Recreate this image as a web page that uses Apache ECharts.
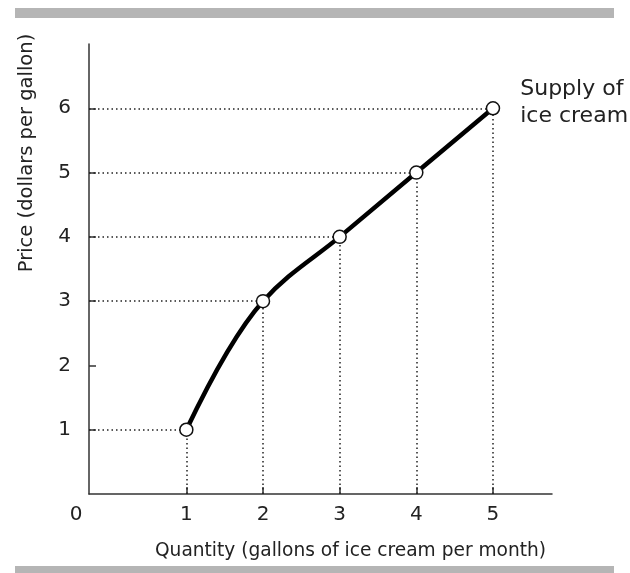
<!DOCTYPE html>
<html>
<head>
<meta charset="utf-8">
<script src="https://cdn.jsdelivr.net/npm/echarts@6/dist/echarts.min.js"></script>
<style>
html, body { margin: 0; padding: 0; background: #fff; }
#chart { width: 630px; height: 573px; }
</style>
</head>
<body>
<div id="chart"></div>
<script>
// 供给表：数量（加仑/月）与价格（美元/加仑）
const quantity = [1, 2, 3, 4, 5]
const price = [1, 3, 4, 5, 6]
const xTicks = [1, 2, 3, 4, 5]
const yTicks = [1, 2, 3, 4, 5, 6]

const xMin = -0.27
const xMax = 5.77
const font = 'DejaVu Sans'
const ink = '#222'

const points = quantity.map((q, i) => [q, price[i]])

// 单调三次插值 (PCHIP) 的切线，用来画平滑的供给曲线
function pchipTangents(xs, ys) {
  const n = xs.length
  const h = []
  const d = []
  for (let i = 0; i < n - 1; i++) {
    h.push(xs[i + 1] - xs[i])
    d.push((ys[i + 1] - ys[i]) / h[i])
  }
  const m = new Array(n)
  for (let i = 1; i < n - 1; i++) {
    if (d[i - 1] * d[i] <= 0) {
      m[i] = 0
    } else {
      const w1 = 2 * h[i] + h[i - 1]
      const w2 = h[i] + 2 * h[i - 1]
      m[i] = (w1 + w2) / (w1 / d[i - 1] + w2 / d[i])
    }
  }
  m[0] = ((2 * h[0] + h[1]) * d[0] - h[0] * d[1]) / (h[0] + h[1])
  m[n - 1] = ((2 * h[n - 2] + h[n - 3]) * d[n - 2] - h[n - 2] * d[n - 3]) / (h[n - 2] + h[n - 3])
  return m
}
const slopes = pchipTangents(quantity, price)

// 虚线：点到两条轴
const dropLines = []
points.forEach(([q, p]) => {
  dropLines.push([{ coord: [xMin, p] }, { coord: [q, p] }])
  dropLines.push([{ coord: [q, 0] }, { coord: [q, p] }])
})

const myEchart = echarts.init(document.getElementById('chart'))

const option = {
  animation: false,
  grid: { left: 89, right: 78, top: 44, bottom: 79 },
  xAxis: {
    type: 'value',
    min: xMin,
    max: xMax,
    splitLine: { show: false },
    axisLine: { onZero: false, lineStyle: { color: '#333', width: 1.5 } },
    axisTick: { inside: true, length: 7, customValues: xTicks, lineStyle: { color: '#333', width: 1.5 } },
    axisLabel: { customValues: xTicks, margin: 11, fontSize: 20, color: ink, fontFamily: font },
    name: 'Quantity (gallons of ice cream per month)',
    nameLocation: 'middle',
    nameGap: 48,
    nameTextStyle: { fontSize: 18.6, color: ink, fontFamily: font, padding: [0, 0, 0, 60] }
  },
  yAxis: {
    type: 'value',
    min: 0,
    max: 7,
    splitLine: { show: false },
    axisLine: { onZero: false, lineStyle: { color: '#333', width: 1.5 } },
    axisTick: { inside: true, length: 7, customValues: yTicks, lineStyle: { color: '#333', width: 1.5 } },
    axisLabel: { customValues: yTicks, margin: 18, fontSize: 20, color: ink, fontFamily: font }
  },
  graphic: [
    { type: 'rect', shape: { x: 15, y: 8, width: 599, height: 10 }, style: { fill: '#b5b5b5' } },
    { type: 'rect', shape: { x: 15, y: 566, width: 599, height: 7 }, style: { fill: '#b5b5b5' } },
    {
      type: 'text', x: 76, y: 515,
      style: { text: '0', font: '20px "DejaVu Sans"', fill: ink, align: 'center', verticalAlign: 'middle' }
    },
    {
      type: 'text', x: 27, y: 153, rotation: Math.PI / 2,
      style: { text: 'Price (dollars per gallon)', font: '19.5px "DejaVu Sans"', fill: ink, align: 'center', verticalAlign: 'middle' }
    }
  ],
  series: [
    {
      type: 'line',
      data: [],
      z: 1,
      markLine: {
        silent: true,
        z: 1,
        symbol: 'none',
        label: { show: false },
        lineStyle: { color: '#222', width: 1.5, type: [1.5, 3] },
        data: dropLines
      }
    },
    {
      // 曲线：每一段是一条三次贝塞尔
      type: 'custom',
      z: 2,
      silent: true,
      data: points.slice(0, -1),
      renderItem: (params, api) => {
        const i = params.dataIndex
        const [x0, y0] = points[i]
        const [x1, y1] = points[i + 1]
        const h = x1 - x0
        const a = api.coord([x0, y0])
        const b = api.coord([x1, y1])
        const c1 = api.coord([x0 + h / 3, y0 + (slopes[i] * h) / 3])
        const c2 = api.coord([x1 - h / 3, y1 - (slopes[i + 1] * h) / 3])
        return {
          type: 'bezierCurve',
          shape: { x1: a[0], y1: a[1], cpx1: c1[0], cpy1: c1[1], cpx2: c2[0], cpy2: c2[1], x2: b[0], y2: b[1] },
          style: { stroke: '#000', lineWidth: 4.5, fill: 'none', lineCap: 'round' }
        }
      }
    },
    {
      type: 'scatter',
      data: points,
      z: 3,
      symbol: 'circle',
      symbolSize: 13,
      itemStyle: { color: '#fff', borderColor: '#111', borderWidth: 1.5, opacity: 1 },
      label: {
        show: true,
        formatter: (p) => (p.dataIndex === points.length - 1 ? 'Supply of\nice cream' : ''),
        position: 'right',
        distance: 20,
        offset: [0, -6],
        align: 'left',
        fontSize: 22,
        lineHeight: 27,
        color: ink,
        fontFamily: font
      }
    }
  ]
}
myEchart.setOption(option)
</script>
</body>
</html>
